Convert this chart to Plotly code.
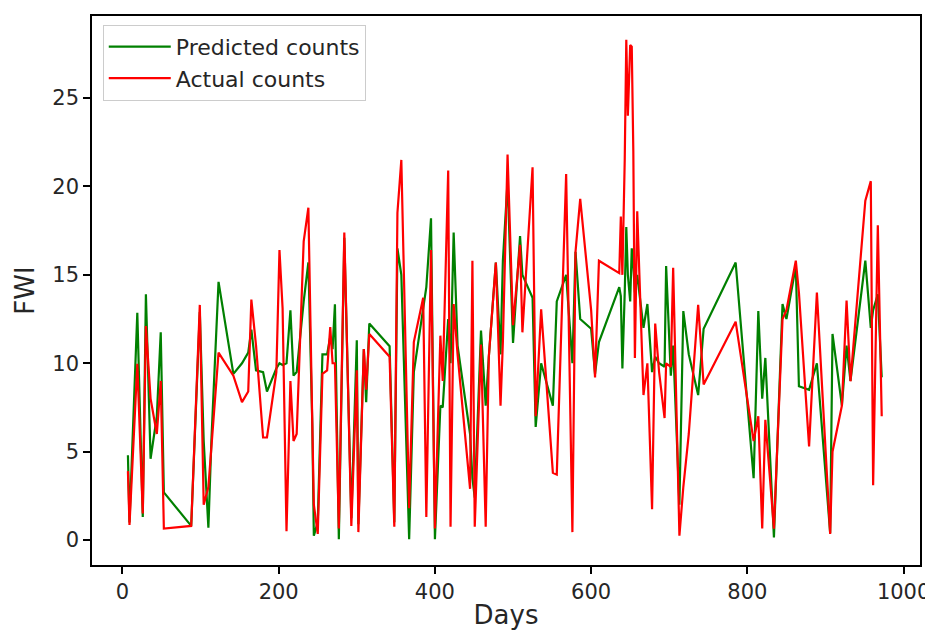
import plotly.graph_objects as go

days = [7, 9, 19, 26, 30, 36, 44, 49, 53, 88, 99, 104, 110, 114, 123, 142, 153, 161, 165, 171,
        180, 185, 197, 201, 205, 210, 215, 219, 223, 232, 238, 243, 245, 250, 256, 262, 266, 269, 272, 277,
        284, 293, 300, 302, 309, 312, 316, 342, 348, 352, 357, 367, 373, 385, 389, 395, 400, 407, 410, 417,
        420, 424, 429, 445, 448, 451, 459, 465, 469, 478, 484, 487, 493, 500, 509, 512, 525, 529, 536, 551,
        556, 568, 576, 580, 586, 600, 605, 610, 636, 638, 640, 643, 645, 647, 650, 652, 654, 656, 659, 667,
        672, 678, 682, 687, 694, 696, 702, 705, 713, 718, 725, 737, 744, 785, 808, 814, 819, 823, 834, 845,
        850, 862, 866, 879, 889, 906, 909, 921, 927, 932, 951, 958, 961, 967, 972]

predicted = [4.8, 1.0, 12.85, 1.3, 13.9, 4.6, 7.0, 11.75, 2.7, 0.8, 12.9, 5.6, 0.7, 5.8, 14.6, 9.4, 10.0, 10.6, 11.9, 9.6,
             9.5, 8.4, 9.7, 10.0, 9.9, 10.0, 13.0, 9.3, 9.5, 13.5, 15.7, 6.6, 0.25, 1.0, 10.5, 10.5, 11.5, 10.8, 13.34, 0.05,
             17.1, 1.24, 11.3, 0.9, 10.8, 7.8, 12.25, 10.96, 1.0, 16.5, 15.0, 0.05, 9.5, 13.0, 14.3, 18.2, 0.05, 7.6, 7.5, 12.5,
             10.0, 17.4, 11.0, 6.0, 3.5, 2.4, 11.85, 7.6, 10.37, 15.7, 10.5, 15.8, 20.3, 11.15, 17.2, 15.0, 13.7, 6.4, 10.0, 7.6,
             13.5, 15.0, 10.0, 16.3, 12.5, 11.95, 9.4, 11.2, 14.3, 13.8, 9.7, 14.0, 17.7, 15.0, 13.5, 16.5, 15.5, 14.0, 15.0, 12.0,
             13.35, 9.5, 10.37, 10.0, 9.8, 15.5, 9.3, 11.0, 2.0, 12.95, 10.5, 8.2, 11.95, 15.7, 3.5, 12.95, 8.0, 10.3, 0.15, 13.35,
             12.5, 15.5, 8.7, 8.5, 10.0, 0.4, 11.66, 7.6, 11.0, 9.0, 15.8, 12.0, 13.0, 13.9, 9.2]

actual = [3.9, 0.85, 9.97, 1.5, 12.1, 8.0, 6.0, 9.0, 0.65, 0.8, 13.3, 2.0, 3.0, 5.5, 10.6, 9.3, 7.8, 8.4, 13.6, 11.0,
          5.8, 5.8, 9.5, 16.4, 13.1, 0.5, 9.0, 5.6, 6.0, 16.9, 18.8, 6.6, 2.0, 0.35, 9.4, 9.6, 12.05, 10.0, 10.0, 0.65,
          17.4, 0.8, 9.6, 0.45, 10.8, 8.5, 11.65, 10.37, 0.75, 18.5, 21.5, 1.8, 11.2, 13.7, 1.3, 16.4, 0.65, 11.56, 9.0, 20.9,
          0.75, 13.35, 10.5, 2.9, 15.8, 0.75, 11.06, 0.75, 10.37, 15.7, 7.6, 11.2, 21.8, 12.15, 16.7, 11.75, 21.08, 7.0, 13.05, 3.8,
          3.7, 20.7, 0.45, 16.3, 19.3, 13.0, 9.2, 15.8, 15.1, 18.3, 15.0, 21.5, 28.3, 24.0, 28.0, 27.9, 22.0, 10.3, 18.6, 8.2,
          10.0, 1.74, 12.25, 9.5, 6.9, 10.0, 9.8, 15.4, 0.25, 3.0, 6.0, 13.3, 8.8, 12.35, 5.6, 7.0, 0.65, 6.8, 0.65, 12.5,
          13.0, 15.8, 14.0, 5.3, 14.0, 0.35, 5.0, 7.6, 13.54, 8.98, 19.2, 20.3, 3.1, 17.8, 7.0]

x_ticks = [0, 200, 400, 600, 800, 1000]
y_ticks = [0, 5, 10, 15, 20, 25]

fig = go.Figure()
fig.add_trace(go.Scatter(x=days, y=predicted, mode="lines", name="Predicted counts",
                         line=dict(color="green", width=2.2)))
fig.add_trace(go.Scatter(x=days, y=actual, mode="lines", name="Actual counts",
                         line=dict(color="red", width=2.2)))

axis_common = dict(showline=True, linecolor="black", linewidth=1.5, mirror=True,
                   ticks="outside", ticklen=7, tickwidth=1.5, tickcolor="black", showgrid=False,
                   zeroline=False, automargin=False, tickfont=dict(size=21, color="#262626"))

fig.update_layout(
    width=925, height=622,
    paper_bgcolor="white", plot_bgcolor="white",
    margin=dict(l=84, r=13, t=8, b=65),
    font=dict(family="DejaVu Sans", size=22, color="#262626"),
    xaxis=dict(range=[-39, 1021], tickvals=x_ticks, title=dict(text="Days", standoff=4), **axis_common),
    yaxis=dict(range=[-1.41, 29.64], tickvals=y_ticks, title=dict(text="FWI", standoff=10), **axis_common),
    legend=dict(x=0.013, y=0.984, xanchor="left", yanchor="top", bgcolor="rgba(255,255,255,0.85)",
                bordercolor="#cccccc", borderwidth=1, font=dict(size=22, color="#262626"),
                tracegroupgap=0, itemwidth=62),
    showlegend=True,
)

fig.write_html("out.html")
